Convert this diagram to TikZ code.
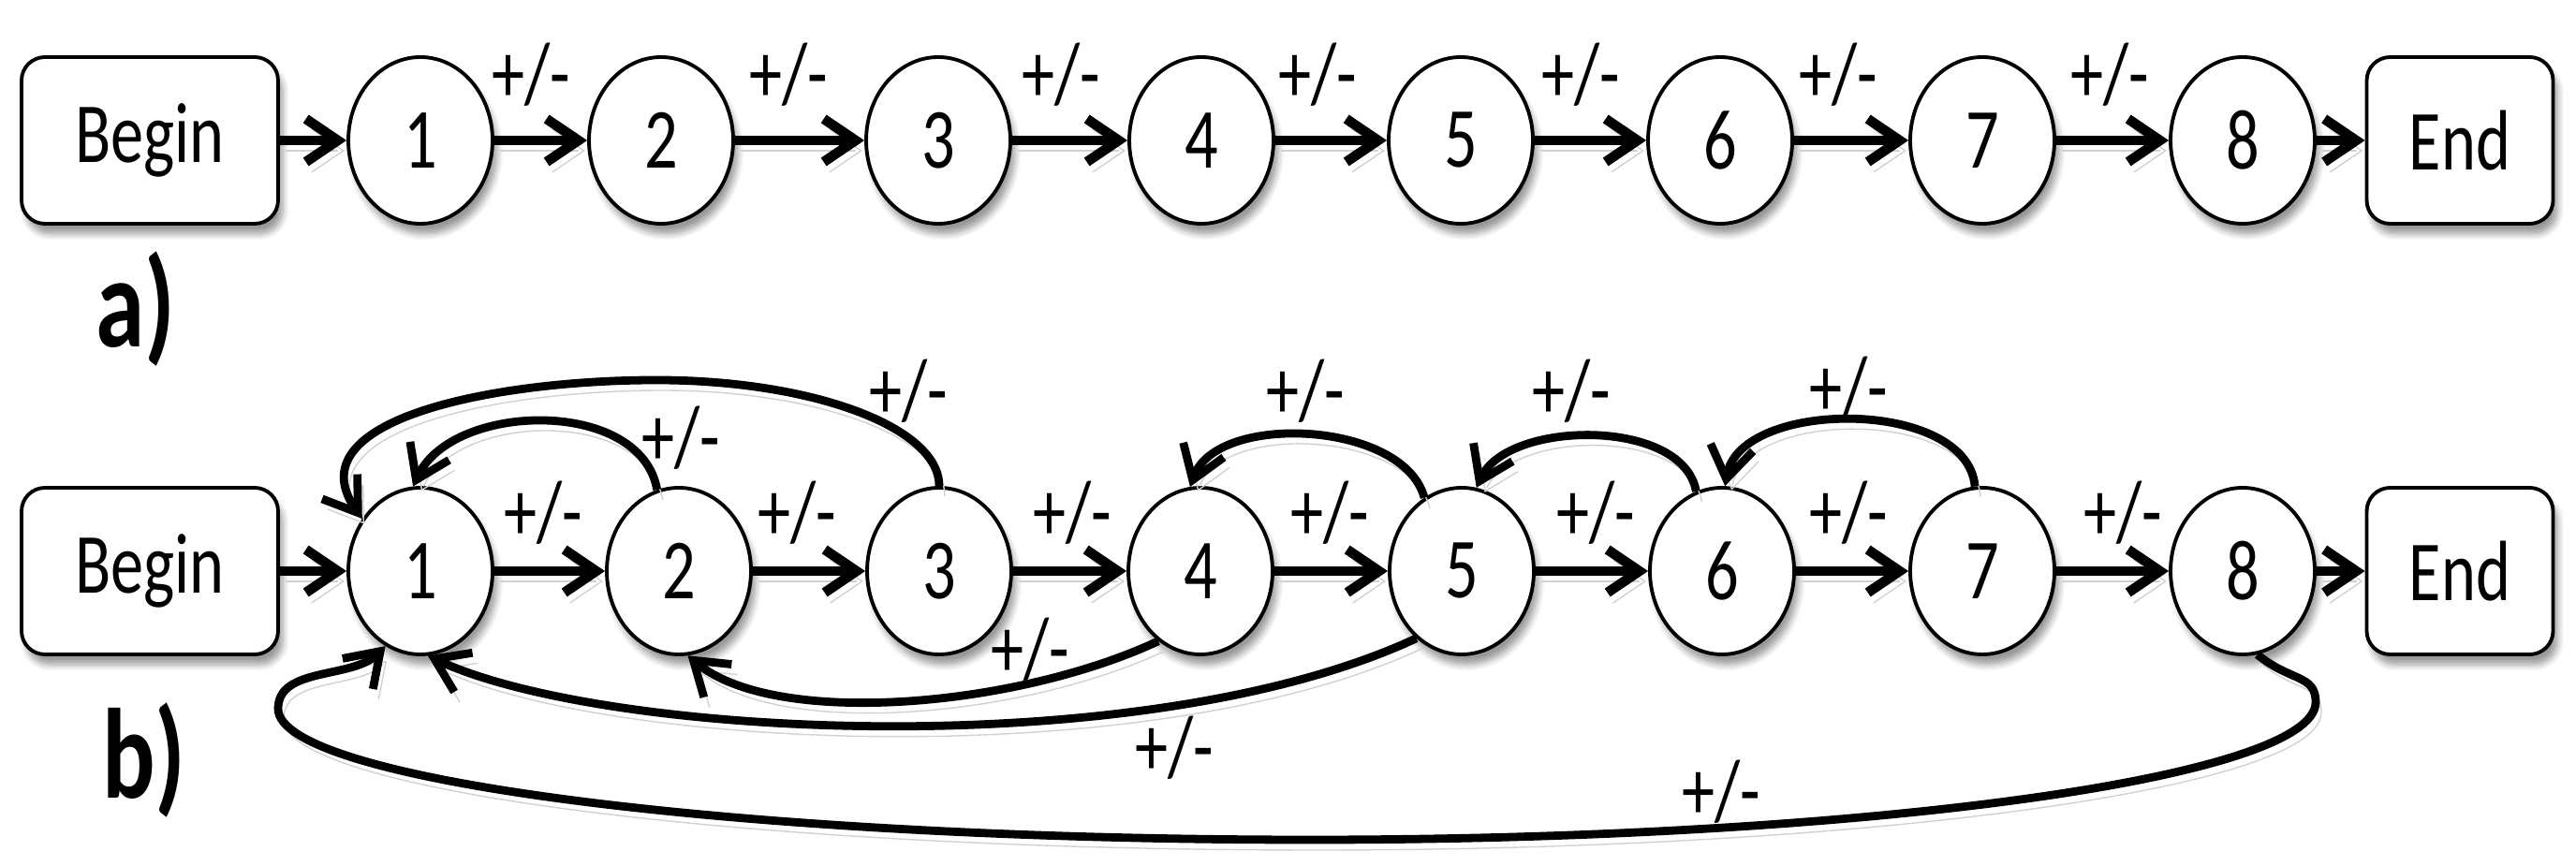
\documentclass[tikz,border=0pt]{standalone}
\usepackage{fontspec}
\setmainfont{Carlito}
\usetikzlibrary{arrows.meta}
\usetikzlibrary{shapes.geometric}
\usetikzlibrary{shadows.blur}

% text in the figure is set a little taller than wide
\newcommand{\tallt}[1]{\scalebox{1}[1.3]{#1}}

\begin{document}
\begin{tikzpicture}[
    softshadow/.style={blur shadow={shadow xshift=0.5mm, shadow yshift=-1.1mm, shadow opacity=40, shadow blur steps=6}},
    lineshadow/.style={preaction={draw=black!18, transform canvas={xshift=0.6mm, yshift=-1.1mm}}},
    state/.style={ellipse, draw, line width=1.1pt, fill=white, minimum width=1.54cm, minimum height=1.78cm, inner sep=0pt, font=\fontsize{20}{24}\selectfont, softshadow},
    term/.style={rectangle, rounded corners=0.25cm, draw, line width=1.1pt, fill=white, minimum height=1.78cm, inner sep=0pt, font=\fontsize{20}{24}\selectfont, softshadow},
    sign/.style={inner sep=0pt, font=\fontsize{20}{24}\selectfont},
    part/.style={inner sep=0pt, font=\fontsize{30}{34}\selectfont\bfseries},
    fwd/.style={line width=3pt, -{Straight Barb[length=3.4mm, width=4.6mm]}, lineshadow},
    back/.style={line width=2.5pt, -{Straight Barb[length=3.4mm, width=4.6mm]}, lineshadow}
]
    \useasboundingbox (0,0) rectangle (27.51,-9.25);

    % a) plain chain
    \node[term, minimum width=2.74cm] (aBegin) at (1.60,-1.50) {\tallt{Begin}};
    \foreach \n/\x in {1/4.49,2/7.06,3/10.02,4/12.83,5/15.60,6/18.37,7/21.17,8/23.95}
	\node[state] (a\n) at (\x,-1.50) {\tallt{\n}};
    \node[term, minimum width=1.99cm] (aEnd) at (26.27,-1.50) {\tallt{End}};
    \draw[fwd] (aBegin) -- (a1);
    \foreach \i/\j in {1/2,2/3,3/4,4/5,5/6,6/7,7/8}
	\draw[fwd] (a\i) -- (a\j);
    \draw[fwd] (a8) -- (aEnd);
    \foreach \x [count=\k] in {5.67,8.42,11.33,14.07,16.88,19.63,22.53}
	\node[sign] (asign\k) at (\x,-0.80) {\tallt{+/-}};
    \node[part] (alabel) at (1.45,-3.30) {\tallt{a)}};

    % b) chain with jumps back
    \node[term, minimum width=2.74cm] (bBegin) at (1.60,-6.10) {\tallt{Begin}};
    \foreach \n/\x in {1/4.49,2/7.25,3/10.03,4/12.82,5/15.61,6/18.39,7/21.17,8/23.95}
	\node[state] (b\n) at (\x,-6.10) {\tallt{\n}};
    \node[term, minimum width=1.99cm] (bEnd) at (26.27,-6.10) {\tallt{End}};
    \draw[fwd] (bBegin) -- (b1);
    \foreach \i/\j in {1/2,2/3,3/4,4/5,5/6,6/7,7/8}
	\draw[fwd] (b\i) -- (b\j);
    \draw[fwd] (b8) -- (bEnd);
    \foreach \x [count=\k] in {5.80,8.51,11.45,14.20,17.04,19.74,22.67}
	\node[sign] (bsign\k) at (\x,-5.48) {\tallt{+/-}};

    % jumps above
    \draw[back] (b2.105) .. controls +(100:1.0) and +(65:1.0) .. (b1.95);
    \draw[back] (b3.north) .. controls +(90:0.63) and +(0:1.66) .. (7.01,-4.06)
	.. controls +(180:1.71) and +(125:1.3) .. (b1.138);
    \draw[back] (b5.117) .. controls +(105:0.85) and +(70:0.85) .. (b4.97);
    \draw[back] (b6.108) .. controls +(100:0.8) and +(65:0.8) .. (b5.80);
    \draw[back] (b7.95) .. controls +(95:0.95) and +(80:0.95) .. (b6.88);
    \node[sign] (jsign1) at (7.27,-4.68) {\tallt{+/-}};
    \node[sign] (jsign2) at (9.70,-4.18) {\tallt{+/-}};
    \node[sign] (jsign3) at (13.94,-4.18) {\tallt{+/-}};
    \node[sign] (jsign4) at (16.78,-4.18) {\tallt{+/-}};
    \node[sign] (jsign5) at (19.74,-4.15) {\tallt{+/-}};

    % jumps below
    \draw[back] (b4.239) .. controls +(205:1.7) and +(-40:1.2) .. (b2.276);
    \draw[back] (b5.236) .. controls +(205:3.2) and +(-25:2.1) .. (b1.275);
    \draw[back] (b8.280) .. controls +(-40:0.45) and +(90:0.3) .. (24.73,-7.50)
	.. controls +(-90:0.81) and +(0:5.92) .. (14.00,-8.97)
	.. controls +(180:6.09) and +(-90:0.77) .. (2.97,-7.57)
	.. controls +(90:0.45) and +(225:0.5) .. (b1.245);
    \node[sign] (jsign6) at (11.00,-6.94) {\tallt{+/-}};
    \node[sign] (jsign7) at (12.54,-7.99) {\tallt{+/-}};
    \node[sign] (jsign8) at (18.38,-8.46) {\tallt{+/-}};
    \node[part] (blabel) at (1.54,-8.12) {\tallt{b)}};
\end{tikzpicture}
\end{document}
